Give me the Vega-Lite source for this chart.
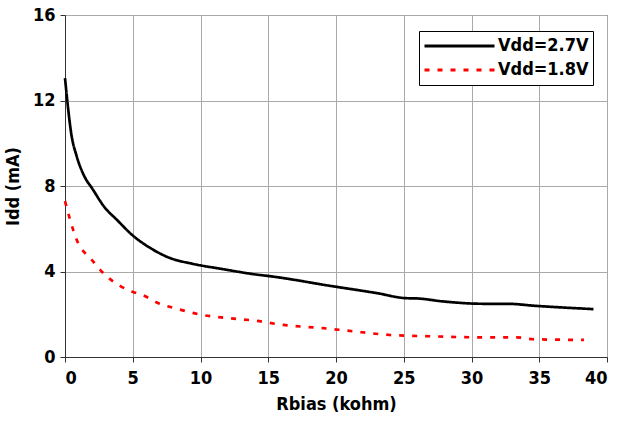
{
  "$schema": "https://vega.github.io/schema/vega-lite/v6.json",
  "width": 542,
  "height": 342,
  "autosize": {"type": "none"},
  "padding": {"left": 65, "top": 15, "right": 14, "bottom": 66},
  "background": "white",
  "config": {
    "view": {"stroke": "#333333", "strokeWidth": 1},
    "font": "DejaVu Sans Condensed"
  },
  "data": {
    "values": [
      {"r": 0, "idd": 13.05, "s": "Vdd=2.7V"},
      {"r": 0.49, "idd": 10.34, "s": "Vdd=2.7V"},
      {"r": 0.86, "idd": 9.4, "s": "Vdd=2.7V"},
      {"r": 1.48, "idd": 8.39, "s": "Vdd=2.7V"},
      {"r": 1.97, "idd": 7.92, "s": "Vdd=2.7V"},
      {"r": 2.95, "idd": 6.98, "s": "Vdd=2.7V"},
      {"r": 3.81, "idd": 6.43, "s": "Vdd=2.7V"},
      {"r": 4.92, "idd": 5.73, "s": "Vdd=2.7V"},
      {"r": 6.4, "idd": 5.06, "s": "Vdd=2.7V"},
      {"r": 7.75, "idd": 4.63, "s": "Vdd=2.7V"},
      {"r": 9.35, "idd": 4.37, "s": "Vdd=2.7V"},
      {"r": 11.56, "idd": 4.12, "s": "Vdd=2.7V"},
      {"r": 13.65, "idd": 3.9, "s": "Vdd=2.7V"},
      {"r": 15.6, "idd": 3.74, "s": "Vdd=2.7V"},
      {"r": 19.56, "idd": 3.33, "s": "Vdd=2.7V"},
      {"r": 23.0, "idd": 2.99, "s": "Vdd=2.7V"},
      {"r": 25.2, "idd": 2.75, "s": "Vdd=2.7V"},
      {"r": 25.96, "idd": 2.74, "s": "Vdd=2.7V"},
      {"r": 27.9, "idd": 2.6, "s": "Vdd=2.7V"},
      {"r": 30.87, "idd": 2.49, "s": "Vdd=2.7V"},
      {"r": 32.6, "idd": 2.49, "s": "Vdd=2.7V"},
      {"r": 34.8, "idd": 2.39, "s": "Vdd=2.7V"},
      {"r": 39.0, "idd": 2.24, "s": "Vdd=2.7V"},
      {"r": 0, "idd": 7.29, "s": "Vdd=1.8V"},
      {"r": 0.37, "idd": 6.43, "s": "Vdd=1.8V"},
      {"r": 0.86, "idd": 5.49, "s": "Vdd=1.8V"},
      {"r": 1.97, "idd": 4.55, "s": "Vdd=1.8V"},
      {"r": 2.95, "idd": 3.85, "s": "Vdd=1.8V"},
      {"r": 4.06, "idd": 3.33, "s": "Vdd=1.8V"},
      {"r": 4.92, "idd": 3.07, "s": "Vdd=1.8V"},
      {"r": 5.78, "idd": 2.88, "s": "Vdd=1.8V"},
      {"r": 6.89, "idd": 2.52, "s": "Vdd=1.8V"},
      {"r": 8.36, "idd": 2.24, "s": "Vdd=1.8V"},
      {"r": 10.09, "idd": 1.97, "s": "Vdd=1.8V"},
      {"r": 12.05, "idd": 1.82, "s": "Vdd=1.8V"},
      {"r": 14.15, "idd": 1.69, "s": "Vdd=1.8V"},
      {"r": 16.1, "idd": 1.5, "s": "Vdd=1.8V"},
      {"r": 19.05, "idd": 1.35, "s": "Vdd=1.8V"},
      {"r": 21.0, "idd": 1.22, "s": "Vdd=1.8V"},
      {"r": 23.99, "idd": 1.03, "s": "Vdd=1.8V"},
      {"r": 26.9, "idd": 0.97, "s": "Vdd=1.8V"},
      {"r": 30.87, "idd": 0.92, "s": "Vdd=1.8V"},
      {"r": 33.3, "idd": 0.92, "s": "Vdd=1.8V"},
      {"r": 34.6, "idd": 0.83, "s": "Vdd=1.8V"},
      {"r": 38.3, "idd": 0.8, "s": "Vdd=1.8V"}
    ]
  },
  "mark": {"type": "line", "strokeWidth": 2.7, "interpolate": "monotone"},
  "encoding": {
    "x": {
      "field": "r", "type": "quantitative",
      "scale": {"domain": [0, 40], "nice": false},
      "axis": {
        "values": [0, 5, 10, 15, 20, 25, 30, 35, 40],
        "title": "Rbias (kohm)",
        "titleFont": "DejaVu Sans Condensed", "titleFontSize": 18, "titleFontWeight": "bold", "titleColor": "black", "titlePadding": 8,
        "labelFont": "DejaVu Sans Condensed", "labelFontSize": 18, "labelFontWeight": "bold", "labelColor": "black", "labelPadding": 7,
        "domainColor": "#333333", "tickColor": "#333333", "tickSize": 5,
        "gridColor": "#aaaaaa", "gridWidth": 1
      }
    },
    "y": {
      "field": "idd", "type": "quantitative",
      "scale": {"domain": [0, 16], "nice": false},
      "axis": {
        "values": [0, 4, 8, 12, 16],
        "title": "Idd (mA)",
        "titleFont": "DejaVu Sans Condensed", "titleFontSize": 18, "titleFontWeight": "bold", "titleColor": "black", "titlePadding": 10,
        "labelFont": "DejaVu Sans Condensed", "labelFontSize": 18, "labelFontWeight": "bold", "labelColor": "black", "labelPadding": 5,
        "domainColor": "#333333", "tickColor": "#333333", "tickSize": 5,
        "gridColor": "#aaaaaa", "gridWidth": 1
      }
    },
    "color": {
      "field": "s", "type": "nominal",
      "scale": {"domain": ["Vdd=2.7V", "Vdd=1.8V"], "range": ["black", "#ff0000"]},
      "legend": {
        "title": null,
        "orient": "none", "legendX": 354, "legendY": 16,
        "symbolType": "stroke", "symbolSize": 4900, "symbolStrokeWidth": 3,
        "clipHeight": 22, "labelOffset": 2,
        "labelFont": "DejaVu Sans Condensed", "labelFontSize": 18, "labelFontWeight": "bold", "labelColor": "black",
        "rowPadding": 2, "padding": 4,
        "strokeColor": "black", "fillColor": "white"
      }
    },
    "strokeDash": {
      "field": "s", "type": "nominal",
      "scale": {"domain": ["Vdd=2.7V", "Vdd=1.8V"], "range": [[1, 0], [5, 8]]},
      "legend": null
    }
  }
}
